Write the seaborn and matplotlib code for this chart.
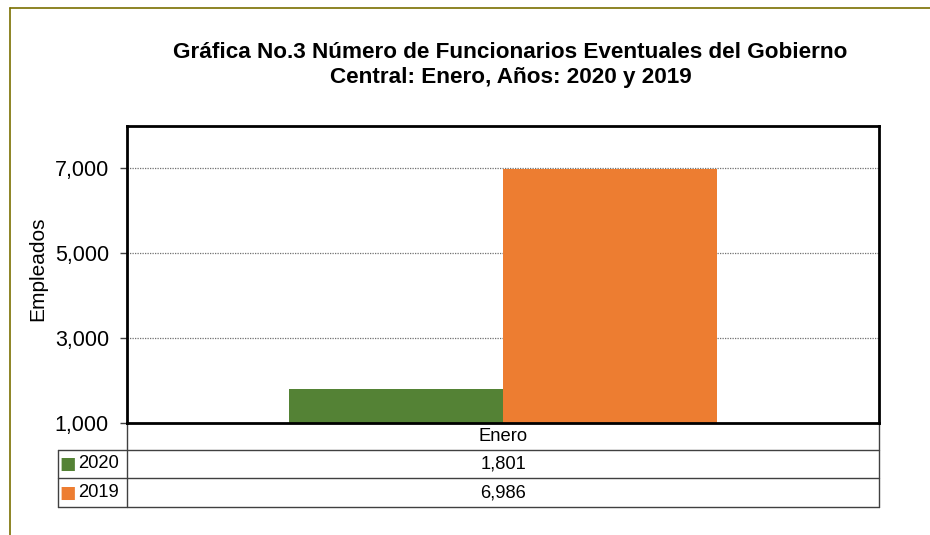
import numpy as np
import pandas as pd
import matplotlib.pyplot as plt
from matplotlib.lines import Line2D
from matplotlib.ticker import FuncFormatter
import seaborn as sns

# datos de la gráfica
meses = ['Enero']
anios = ['2020', '2019']
empleados_2020 = [1801]
empleados_2019 = [6986]
colores = ['#548235', '#ED7D31']
ticks_y = [1000, 3000, 5000, 7000]

df = pd.DataFrame({
    'mes': meses * 2,
    'anio': [anios[0]] * len(meses) + [anios[1]] * len(meses),
    'empleados': empleados_2020 + empleados_2019,
})

sns.set_theme(style='white')
plt.rcParams['font.family'] = ['Liberation Sans', 'DejaVu Sans']
plt.rcParams['text.color'] = 'black'

fig = plt.figure(figsize=(9.3, 5.35), dpi=100)
ax = fig.add_axes([0.1366, 0.2093, 0.8086, 0.5551])

sns.barplot(data=df, x='mes', y='empleados', hue='anio', hue_order=anios,
            palette=colores, width=0.57, saturation=1, linewidth=0,
            ax=ax, legend=False)

ax.set_xlim(-0.5, 0.5)
ax.set_ylim(1000, 8000)
ax.set_yticks(ticks_y)
ax.yaxis.set_major_formatter(FuncFormatter(lambda v, p: f'{v:,.0f}'))
ax.tick_params(axis='y', labelsize=15.5, length=5, width=1, color='#404040',
               left=True, pad=8, labelcolor='black')
ax.set_xticks([])
ax.set_xlabel('')
ax.set_ylabel('Empleados', fontsize=15, color='black')
ax.yaxis.set_label_coords(-0.106, 0.52)

for y in ticks_y[1:]:
    ax.axhline(y, color='#707070', lw=0.9, ls=(0, (1, 1)), zorder=0)

for s in ax.spines.values():
    s.set_visible(True)
    s.set_color('black')
    s.set_linewidth(2)

# tabla de datos debajo del eje
xl = -0.0918
y1, y2, y3 = -0.0909, -0.185, -0.283
lc = '#404040'
tr = ax.transAxes
segs = [
    ([0, 0], [0, y3]), ([1, 1], [0, y3]), ([xl, xl], [y1, y3]),
    ([xl, 1], [y1, y1]), ([xl, 1], [y2, y2]), ([xl, 1], [y3, y3]),
]
for xs, ys in segs:
    ax.plot(xs, ys, color=lc, lw=1, transform=tr, clip_on=False)

ax.text(0.5, y1 / 2, meses[0], transform=tr, ha='center', va='center', fontsize=13.2)
valores = [empleados_2020[0], empleados_2019[0]]
filas = [(y1 + y2) / 2, (y2 + y3) / 2]
for anio, val, col, yc in zip(anios, valores, colores, filas):
    ax.text(0.5, yc, f'{val:,}', transform=tr, ha='center', va='center', fontsize=13.2)
    ax.text(-0.0655, yc, anio, transform=tr, ha='left', va='center', fontsize=13.2)
    ax.text(-0.0785, yc, '■', transform=tr, ha='center', va='center',
            fontsize=12.5, color=col, family='DejaVu Sans')

fig.text(0.549, 1 - 65 / 535,
         'Gráfica No.3 Número de Funcionarios Eventuales del Gobierno\n'
         'Central: Enero, Años: 2020 y 2019',
         ha='center', va='center', fontsize=16.2, fontweight='bold',
         linespacing=1.25, color='black')

# borde del área del gráfico
borde = '#7a6f00'
fig.add_artist(Line2D([9.5 / 930, 9.5 / 930], [0, 1 - 7.5 / 535], color=borde, lw=1.2))
fig.add_artist(Line2D([9.5 / 930, 1], [1 - 7.5 / 535, 1 - 7.5 / 535], color=borde, lw=1.2))

fig.savefig('out.png', dpi=100)
